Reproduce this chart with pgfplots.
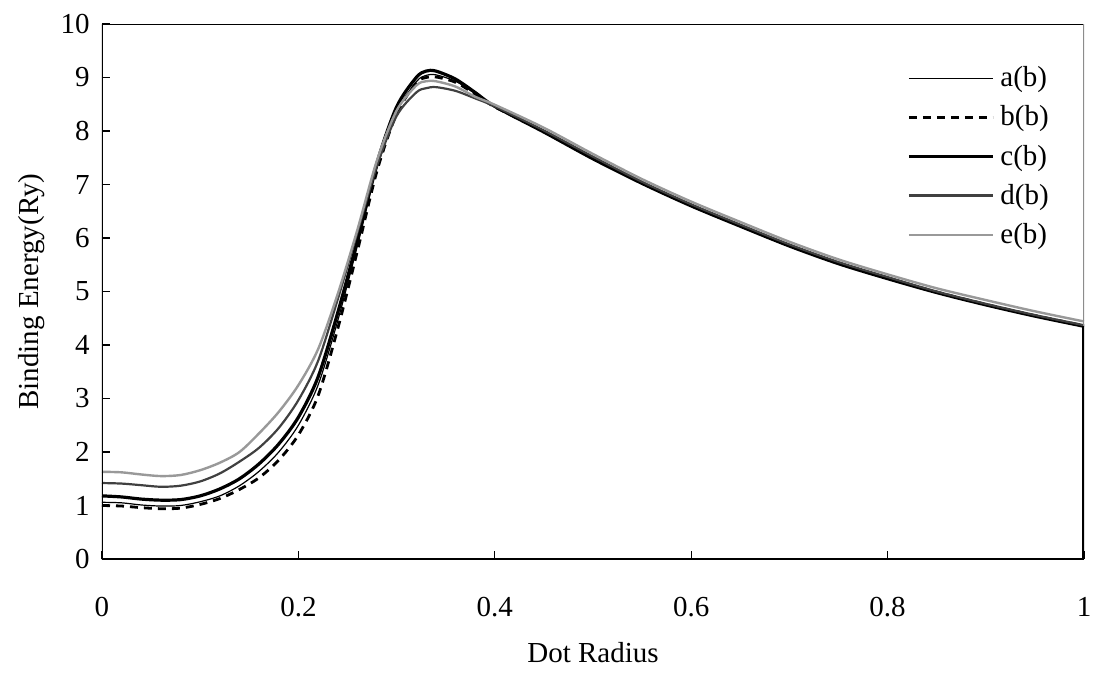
\documentclass[border=0pt]{standalone}
\usepackage{fontspec}
\setmainfont{Liberation Serif}
\usepackage{pgfplots}
\pgfplotsset{compat=1.18}
\begin{document}
\begin{tikzpicture}
\path[use as bounding box] (-51pt,-59pt) rectangle (495.5pt,279.5pt);
\begin{axis}[
  at={(0pt,0pt)}, anchor=south west,
  scale only axis, width=491pt, height=267.5pt,
  xmin=0, xmax=1, ymin=0, ymax=10,
  xtick={0,0.2,0.4,0.6,0.8,1},
  ytick={0,1,2,3,4,5,6,7,8,9,10},
  xticklabels={0,0.2,0.4,0.6,0.8,1},
  tick pos=left, tick align=inside,
  major tick length=4pt,
  tick style={black, line width=0.6pt},
  axis line style={draw=none},
  /pgf/number format/assume math mode=true,
  tick label style={font=\fontsize{14.5}{17}\selectfont},
  yticklabel style={anchor=east, xshift=-2.7pt},
  xticklabel style={anchor=center, yshift=-24pt},
  label style={font=\fontsize{14.5}{17}\selectfont},
  xlabel={Dot Radius},
  ylabel={Binding Energy(Ry)},
  xlabel style={at={(axis description cs:0.5,0)}, anchor=center, yshift=-47pt},
  ylabel style={at={(axis description cs:0,0.5)}, anchor=center, yshift=35pt},
  legend style={draw=none, fill=none, at={(rel axis cs:0.82,0.924)}, anchor=north west,
    inner sep=0pt, outer sep=0pt, row sep=6pt, column sep=2pt,
    font=\fontsize{14.5}{17}\selectfont, nodes={inner sep=1pt}},
  legend cell align=left,
  legend image code/.code={\draw[#1] (0pt,0pt) -- (42pt,0pt);},
]
\addplot[black, line width=0.6pt, smooth, tension=0.5] coordinates {
(0,1.06)(0.02,1.05)(0.04,1.01)(0.06,0.99)(0.08,1.00)(0.10,1.07)(0.12,1.18)(0.14,1.37)(0.16,1.64)(0.18,2.00)(0.20,2.50)(0.22,3.25)(0.24,4.45)(0.26,5.85)(0.28,7.30)(0.30,8.35)(0.32,8.92)(0.33,9.04)(0.34,9.05)(0.36,8.93)(0.38,8.70)(0.40,8.45)(0.45,7.98)(0.50,7.48)(0.55,7.02)(0.60,6.60)(0.65,6.22)(0.70,5.85)(0.75,5.52)(0.80,5.24)(0.85,4.98)(0.90,4.75)(0.95,4.54)(1.00,4.35)};
\addlegendentry{a(b)}
\addplot[black, line width=1.4pt, dash pattern=on 4pt off 3pt, smooth, tension=0.5] coordinates {
(0,1.00)(0.02,0.99)(0.04,0.96)(0.06,0.94)(0.08,0.95)(0.10,1.02)(0.12,1.13)(0.14,1.30)(0.16,1.52)(0.18,1.85)(0.20,2.32)(0.22,3.05)(0.24,4.30)(0.26,5.75)(0.28,7.25)(0.30,8.32)(0.32,8.90)(0.33,9.00)(0.34,9.01)(0.36,8.91)(0.38,8.69)(0.40,8.45)(0.45,7.99)(0.50,7.49)(0.55,7.03)(0.60,6.61)(0.65,6.23)(0.70,5.86)(0.75,5.53)(0.80,5.25)(0.85,4.99)(0.90,4.76)(0.95,4.55)(1.00,4.36)};
\addlegendentry{b(b)}
\addplot[black, line width=1.6pt, smooth, tension=0.5] coordinates {
(0,1.18)(0.02,1.16)(0.04,1.12)(0.06,1.10)(0.08,1.11)(0.10,1.18)(0.12,1.31)(0.14,1.50)(0.16,1.78)(0.18,2.15)(0.20,2.65)(0.22,3.40)(0.24,4.60)(0.26,5.95)(0.28,7.40)(0.30,8.45)(0.32,9.00)(0.33,9.12)(0.34,9.12)(0.36,8.97)(0.38,8.72)(0.40,8.46)(0.45,7.98)(0.50,7.48)(0.55,7.02)(0.60,6.60)(0.65,6.22)(0.70,5.85)(0.75,5.52)(0.80,5.24)(0.85,4.98)(0.90,4.75)(0.95,4.54)(1.00,4.35)};
\addlegendentry{c(b)}
\addplot[black!75, line width=1.1pt, smooth, tension=0.5] coordinates {
(0,1.42)(0.02,1.41)(0.04,1.38)(0.06,1.35)(0.08,1.37)(0.10,1.45)(0.12,1.60)(0.14,1.82)(0.16,2.08)(0.18,2.45)(0.20,2.97)(0.22,3.70)(0.24,4.85)(0.26,6.10)(0.28,7.35)(0.30,8.28)(0.32,8.72)(0.33,8.80)(0.34,8.82)(0.36,8.75)(0.38,8.61)(0.40,8.46)(0.45,8.01)(0.50,7.52)(0.55,7.05)(0.60,6.63)(0.65,6.25)(0.70,5.88)(0.75,5.55)(0.80,5.27)(0.85,5.00)(0.90,4.77)(0.95,4.56)(1.00,4.37)};
\addlegendentry{d(b)}
\addplot[black!40, line width=1.2pt, smooth, tension=0.5] coordinates {
(0,1.63)(0.02,1.62)(0.04,1.58)(0.06,1.55)(0.08,1.57)(0.10,1.66)(0.12,1.80)(0.14,2.00)(0.16,2.35)(0.18,2.75)(0.20,3.25)(0.22,3.92)(0.24,4.95)(0.26,6.15)(0.28,7.45)(0.30,8.38)(0.32,8.85)(0.33,8.93)(0.34,8.93)(0.36,8.83)(0.38,8.64)(0.40,8.49)(0.45,8.06)(0.50,7.57)(0.55,7.10)(0.60,6.68)(0.65,6.30)(0.70,5.93)(0.75,5.60)(0.80,5.32)(0.85,5.06)(0.90,4.84)(0.95,4.63)(1.00,4.44)};
\addlegendentry{e(b)}
\addplot[black, line width=1.6pt, forget plot] coordinates {(1,4.35)(1,0)};
\draw[black, line width=1pt] (rel axis cs:0,1) -- (rel axis cs:0,0) -- (rel axis cs:1,0);
\draw[black, line width=1pt] (rel axis cs:0,1) -- (rel axis cs:1,1);
\draw[black!45, line width=0.8pt] (rel axis cs:1,1) -- (rel axis cs:1,0.435);
\end{axis}
\end{tikzpicture}
\end{document}
